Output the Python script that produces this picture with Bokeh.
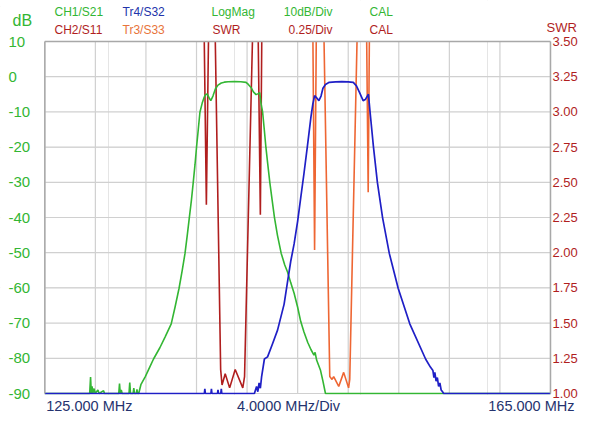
from bokeh.plotting import figure
from bokeh.models import Range1d
from bokeh.core.properties import value
from bokeh.embed import file_html
from bokeh.resources import INLINE

FONT = "Liberation Sans"
GREEN = "#33b633"
BLUE = "#1f1fc6"
DARKRED = "#b01e1e"
ORANGE = "#ee6633"
NAVY = "#25336e"
GRIDC = "#d0d0d0"
FRAMEC = "#a8a8a8"

# ---- axes / ticks ----
freq_ticks = [125, 129, 133, 137, 141, 145, 149, 153, 157, 161, 165]
db_ticks = [-90, -80, -70, -60, -50, -40, -30, -20, -10, 0, 10]
db_labels = ["-90", "-80", "-70", "-60", "-50", "-40", "-30", "-20", "-10", "0", "10"]
swr_ticks = [1.00, 1.25, 1.50, 1.75, 2.00, 2.25, 2.50, 2.75, 3.00, 3.25, 3.50]
swr_labels = ["1.00", "1.25", "1.50", "1.75", "2.00", "2.25", "2.50", "2.75", "3.00", "3.25", "3.50"]

# ---- CH1/S21 (dB) ----
s21_freq = [125.0, 128.55, 128.62, 128.68, 128.74, 128.8, 128.9, 128.98, 129.2, 129.3, 129.65, 129.72,
            130.85, 130.91, 130.97, 131.05, 131.12, 131.66, 131.72, 131.78, 131.98, 132.04, 132.1,
            132.24, 132.29, 132.34,
            132.43, 132.6, 132.95, 133.3, 133.6, 134.1, 134.52, 135.0, 135.3, 135.62, 135.87, 136.09,
            136.27, 136.43, 136.6, 136.74, 136.88, 137.0, 137.14, 137.27, 137.45, 137.6, 137.72, 137.84,
            137.98, 138.13, 138.3, 138.49, 138.7, 138.96, 139.2, 139.5, 140.0, 140.5, 140.92, 141.1,
            141.31, 141.5, 141.71, 141.88, 142.0, 142.1, 142.23, 142.36, 142.49, 142.64, 142.8, 142.98,
            143.17, 143.4, 143.7, 143.98, 144.2, 144.45, 144.72, 145.0, 145.24, 145.5, 145.8, 146.05,
            146.29, 146.38, 146.5, 146.8, 147.0, 147.2, 165.0]
s21_db = [-90, -90, -85.3, -90, -88.0, -90, -88.6, -90, -89.0, -90, -89.2, -90,
          -90, -87.2, -90, -89.0, -90, -90, -86.9, -90, -90, -88.5, -90,
          -90, -88.8, -90,
          -90, -87.5, -85.2, -82.5, -80.2, -77.0, -73.9, -70.2, -65.5, -60.1, -55.0, -50.2,
          -45.0, -40.1, -35.0, -30.1, -25.0, -20.1, -15.0, -10.1, -7.5, -5.9, -5.1, -4.9,
          -5.9, -6.8, -5.5, -3.5, -2.4, -1.8, -1.55, -1.45, -1.4, -1.45, -1.6, -2.2,
          -3.05, -4.3, -5.1, -4.8, -4.5, -7.5, -10.1, -15.0, -20.1, -25.0, -30.1, -35.0,
          -40.1, -45.0, -50.2, -53.5, -55.5, -58.5, -61.5, -65.5, -69.5, -72.5, -75.5, -77.5,
          -79.1, -78.3, -80.5, -83.3, -86.5, -90, -90]

# ---- Tr4/S32 (dB) ----
s32_freq = [125.0, 137.62, 137.66, 137.7, 138.14, 138.18, 138.22, 138.66, 138.7, 138.74, 138.92, 138.96, 139.0,
            141.58, 141.75, 141.85, 141.95, 142.05, 142.15, 142.37, 142.62, 143.0, 143.41, 143.93, 144.19,
            144.45, 144.72, 145.0, 145.24, 145.5, 145.78, 146.05, 146.2, 146.34, 146.5, 146.68, 146.85,
            147.0, 147.2, 147.5, 148.0, 148.5, 149.0, 149.4, 149.65, 149.9, 150.18, 150.35, 150.6,
            150.73, 151.0, 151.31, 151.72, 152.25, 152.95, 153.87, 155.12, 155.5, 155.7, 155.78, 155.85,
            155.95, 156.05, 156.15, 156.25, 156.35, 156.48, 156.55, 165.0]
s32_db = [-90, -90, -88.7, -90, -90, -88.7, -90, -90, -89.0, -90, -90, -88.7, -90,
          -90, -88.0, -89.5, -87.0, -88.5, -85.2, -80.2, -79.6, -76.0, -72.0, -64.6, -58.5,
          -52.5, -47.5, -41.0, -34.5, -27.5, -19.5, -11.5, -7.8, -5.4, -6.0, -6.8, -5.5,
          -3.3, -2.2, -1.6, -1.45, -1.4, -1.45, -1.6, -2.6, -4.5, -6.8, -6.5, -5.0,
          -10.1, -20.1, -30.1, -40.1, -50.2, -60.1, -70.2, -80.2, -82.5, -83.5, -85.5, -84.0,
          -86.5, -85.5, -88.0, -87.0, -89.0, -89.6, -90, -90]

# ---- CH2/S11 (SWR); 3.7 = off the top of the scale ----
s11_freq = [125.0, 137.6, 137.78, 137.96, 138.45, 138.91, 139.02, 139.27, 139.62, 140.06, 140.66,
            140.8, 141.45, 141.87, 142.05, 142.17, 165.0]
s11_swr = [3.7, 3.6, 2.34, 3.6, 3.7, 1.17, 1.06, 1.14, 1.04, 1.17, 1.04,
           1.12, 3.6, 3.6, 2.27, 3.6, 3.7]

# ---- Tr3/S33 (SWR) ----
s33_freq = [125.0, 146.2, 146.34, 146.48, 147.05, 147.54, 147.72, 147.85, 148.25, 148.64, 149.03,
            149.12, 149.72, 150.45, 150.58, 150.68, 165.0]
s33_swr = [3.7, 3.6, 2.02, 3.6, 3.7, 1.12, 1.10, 1.12, 1.05, 1.15, 1.04,
           1.10, 3.6, 3.6, 2.43, 3.6, 3.7]

# ---- header / footer texts ----
hdr_row1 = ["CH1/S21", "Tr4/S32", "LogMag", "10dB/Div", "CAL"]
hdr_row2 = ["CH2/S11", "Tr3/S33", "SWR", "0.25/Div", "CAL"]
hdr_row1_col = [GREEN, "#2233aa", GREEN, GREEN, GREEN]
hdr_row2_col = [DARKRED, "#e8743a", DARKRED, DARKRED, DARKRED]
bottom_texts = ["125.000 MHz", "4.0000 MHz/Div", "165.000 MHz"]

# ---- layout (canvas pixels) ----
W, H = 579, 414
CL, CR, CT, CB = 44.3, 550.0, 41.0, 393.0
F0, F1 = freq_ticks[0], freq_ticks[-1]
D0, D1 = db_ticks[0], db_ticks[-1]
S0, S1 = swr_ticks[0], swr_ticks[-1]
pxf = (CR - CL) / (F1 - F0)
pxd = (CB - CT) / (D1 - D0)
pxs = (CB - CT) / (S1 - S0)


def fx(px):
    return F0 + (px - CL) / pxf


def fy(py):
    return D1 - (py - CT) / pxd


xr = Range1d(fx(0), fx(W))
yr = Range1d(fy(H), fy(0))
p = figure(width=W, height=H, output_backend="svg", toolbar_location=None,
           x_range=xr, y_range=yr, x_axis_location=None, y_axis_location=None,
           min_border=0)
p.extra_y_ranges = {"swr": Range1d(S0 - (H - CB) / pxs, S1 + CT / pxs)}
p.outline_line_color = None
p.background_fill_color = "white"
p.border_fill_color = "white"

# grid
p.segment(x0=freq_ticks, y0=[D0] * len(freq_ticks), x1=freq_ticks, y1=[D1] * len(freq_ticks),
          line_color=GRIDC, line_width=1.2)
p.segment(x0=[F0] * len(db_ticks), y0=db_ticks, x1=[F1] * len(db_ticks), y1=db_ticks,
          line_color=GRIDC, line_width=1.2)

# traces
p.line(s33_freq, s33_swr, y_range_name="swr", line_color=ORANGE, line_width=1.6)
p.line(s11_freq, s11_swr, y_range_name="swr", line_color=DARKRED, line_width=1.6)
p.line(s21_freq, s21_db, line_color=GREEN, line_width=1.6)
p.line(s32_freq, s32_db, line_color=BLUE, line_width=1.7)

# white masks outside the graticule (acts as clipping)
p.quad(left=[fx(0), fx(0), fx(0), F1], right=[fx(W), fx(W), F0, fx(W)],
       bottom=[D1, fy(H), D0, D0], top=[fy(0), fy(CB + 1.2), D1, D1],
       fill_color="white", line_color=None)

# graticule border (top, left, right)
p.segment(x0=[F0, F0, F1], y0=[D1, D0, D0], x1=[F1, F0, F1], y1=[D1, D1, D1],
          line_color=FRAMEC, line_width=1.5)

# tick labels
p.text(x=[fx(8.0)] * len(db_ticks), y=db_ticks, text=db_labels, text_color=GREEN,
       text_font=value(FONT), text_font_size="15px", text_align="left", text_baseline="middle")
p.text(x=[fx(CR + 2.0)] * len(swr_ticks), y=swr_ticks, text=swr_labels, y_range_name="swr",
       text_color=DARKRED, text_font=value(FONT), text_font_size="13px",
       text_align="left", text_baseline="middle")

# unit captions
p.text(x=[fx(12.0)], y=[fy(19.5)], text=["dB"], text_color=GREEN, text_font=value(FONT),
       text_font_size="16px", text_align="left", text_baseline="middle")
p.text(x=[fx(546.0)], y=[fy(26.5)], text=["SWR"], text_color=DARKRED, text_font=value(FONT),
       text_font_size="13px", text_align="left", text_baseline="middle")

# header rows
row1_x = [fx(54), fx(122), fx(211), fx(332), fx(369)]
aligns = ["left", "left", "left", "right", "left"]
for t, c, x, a in zip(hdr_row1, hdr_row1_col, row1_x, aligns):
    p.text(x=[x], y=[fy(11.5)], text=[t], text_color=c, text_font=value(FONT),
           text_font_size="12px", text_align=a, text_baseline="middle")
row2_x = [fx(54), fx(122), fx(212), fx(332), fx(369)]
for t, c, x, a in zip(hdr_row2, hdr_row2_col, row2_x, aligns):
    p.text(x=[x], y=[fy(29)], text=[t], text_color=c, text_font=value(FONT),
           text_font_size="12px", text_align=a, text_baseline="middle")

# footer
p.text(x=[fx(45.7), fx(288), fx(574)], y=[fy(405)] * 3, text=bottom_texts, text_color=NAVY,
       text_font=value(FONT), text_font_size="14.5px", text_align=["left", "center", "right"],
       text_baseline="middle")

open("out.html", "w").write(file_html(p, INLINE))
